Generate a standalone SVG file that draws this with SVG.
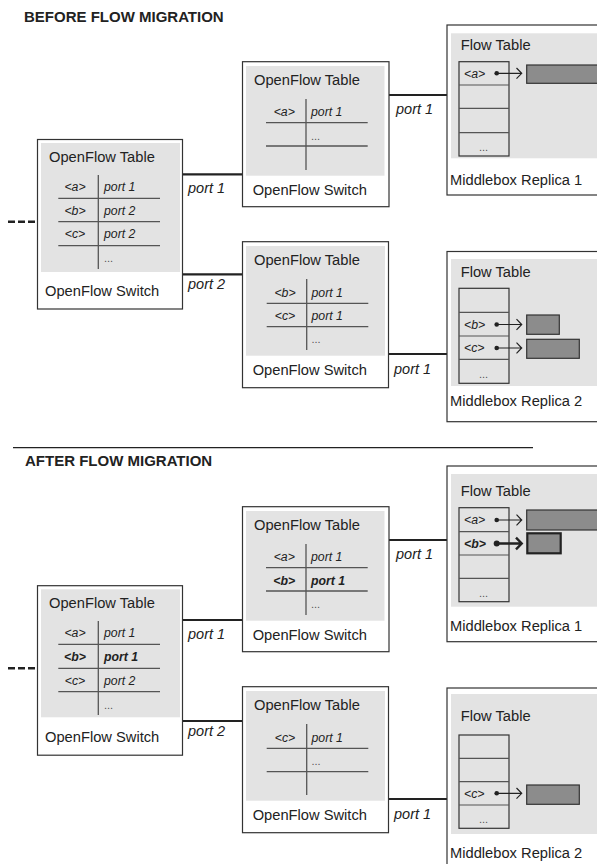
<svg xmlns="http://www.w3.org/2000/svg" width="597" height="864" viewBox="0 0 597 864">
<style>
text{font-family:"Liberation Sans",Arial,sans-serif;fill:#222}
.title{font-size:15px;font-weight:bold}
.lbl{font-size:14.7px}
.cell{font-size:12.3px;font-style:italic}
.cb{font-size:12.3px;font-style:italic;font-weight:bold}
.dots{font-size:11px;fill:#555}
.port{font-size:14.5px;font-style:italic}
.box{fill:#fff;stroke:#333;stroke-width:1.2}
.gray{fill:#e3e3e3}
.tl{stroke:#555;stroke-width:1.3;fill:none}
.ft{fill:none;stroke:#333;stroke-width:1.2}
.ftl{stroke:#555;stroke-width:1.2}
.buf{fill:#8c8c8c;stroke:#333;stroke-width:1.2}
.bufb{fill:#8c8c8c;stroke:#222;stroke-width:2.2}
.ptr{stroke:#222;stroke-width:1.2;fill:none}
.ptrb{stroke:#222;stroke-width:2.4;fill:none}
.link{stroke:#222;stroke-width:2.2;fill:none}
.dash{stroke:#222;stroke-width:2.5;stroke-dasharray:7 3;fill:none}
.sep{stroke:#222;stroke-width:1.2}
</style>

<text class="title" x="24" y="21.5">BEFORE FLOW MIGRATION</text>
<line class="sep" x1="13" y1="447.7" x2="533" y2="447.7"/>
<text class="title" x="25" y="466">AFTER FLOW MIGRATION</text>

<g id="connectors">
  <line class="dash" x1="8" y1="221.7" x2="37" y2="221.7"/>
  <line class="link" x1="183" y1="174.3" x2="242.5" y2="174.3"/>
  <line class="link" x1="183" y1="274.3" x2="242.5" y2="274.3"/>
  <line class="link" x1="389" y1="95" x2="447" y2="95"/>
  <line class="link" x1="389" y1="354" x2="447" y2="354"/>
  <text class="port" x="188" y="193">port 1</text>
  <text class="port" x="188" y="289">port 2</text>
  <text class="port" x="396" y="114">port 1</text>
  <text class="port" x="394" y="374">port 1</text>

  <line class="dash" x1="8" y1="668.3" x2="37" y2="668.3"/>
  <line class="link" x1="183" y1="620" x2="242.5" y2="620"/>
  <line class="link" x1="183" y1="721" x2="242.5" y2="721"/>
  <line class="link" x1="389" y1="540" x2="447" y2="540"/>
  <line class="link" x1="389" y1="799" x2="447" y2="799"/>
  <text class="port" x="188" y="639">port 1</text>
  <text class="port" x="188" y="736">port 2</text>
  <text class="port" x="396" y="559">port 1</text>
  <text class="port" x="394" y="819">port 1</text>
</g>

<!-- BEFORE -->
<g id="sw-left-before">
  <rect class="box" x="37.5" y="139.5" width="145" height="169.5"/>
  <rect class="gray" x="41" y="143" width="139" height="129"/>
  <text class="lbl" x="49" y="162">OpenFlow Table</text>
  <line class="tl" x1="98.3" y1="175" x2="98.3" y2="269"/>
  <line class="tl" x1="58.3" y1="198.3" x2="160" y2="198.3"/>
  <line class="tl" x1="58.3" y1="221.7" x2="160" y2="221.7"/>
  <line class="tl" x1="58.3" y1="245.7" x2="160" y2="245.7"/>
  <text class="cell" x="75" y="191" text-anchor="middle">&lt;a&gt;</text>
  <text class="cell" x="104" y="191">port 1</text>
  <text class="cell" x="75" y="214.5" text-anchor="middle">&lt;b&gt;</text>
  <text class="cell" x="104" y="214.5">port 2</text>
  <text class="cell" x="75" y="238" text-anchor="middle">&lt;c&gt;</text>
  <text class="cell" x="104" y="238">port 2</text>
  <text class="dots" x="104" y="262">...</text>
  <text class="lbl" x="45" y="296">OpenFlow Switch</text>
</g>

<g id="sw-top-before">
  <rect class="box" x="242.5" y="61.7" width="146.5" height="145"/>
  <rect class="gray" x="246" y="66" width="138.5" height="109.7"/>
  <text class="lbl" x="254" y="84.5">OpenFlow Table</text>
  <line class="tl" x1="306" y1="99" x2="306" y2="170"/>
  <line class="tl" x1="266" y1="122.7" x2="367.7" y2="122.7"/>
  <line class="tl" x1="266" y1="146" x2="367.7" y2="146"/>
  <text class="cell" x="284.3" y="116" text-anchor="middle">&lt;a&gt;</text>
  <text class="cell" x="311" y="116">port 1</text>
  <text class="dots" x="311" y="140">...</text>
  <text class="lbl" x="252.7" y="195">OpenFlow Switch</text>
</g>

<g id="sw-bot-before">
  <rect class="box" x="242.5" y="241.7" width="146" height="146"/>
  <rect class="gray" x="246" y="246" width="139" height="109.7"/>
  <text class="lbl" x="254" y="264.5">OpenFlow Table</text>
  <line class="tl" x1="306.7" y1="279" x2="306.7" y2="350"/>
  <line class="tl" x1="266.7" y1="303.3" x2="368.3" y2="303.3"/>
  <line class="tl" x1="266.7" y1="326.7" x2="368.3" y2="326.7"/>
  <text class="cell" x="285" y="296.5" text-anchor="middle">&lt;b&gt;</text>
  <text class="cell" x="311.5" y="296.5">port 1</text>
  <text class="cell" x="285" y="319.5" text-anchor="middle">&lt;c&gt;</text>
  <text class="cell" x="311.5" y="319.5">port 1</text>
  <text class="dots" x="311.5" y="343">...</text>
  <text class="lbl" x="252.7" y="375">OpenFlow Switch</text>
</g>

<g id="mb1-before">
  <rect class="box" x="447" y="25" width="160" height="170"/>
  <rect class="gray" x="451" y="33.3" width="156" height="125"/>
  <text class="lbl" x="460.7" y="50">Flow Table</text>
  <rect class="ft" x="459" y="61.7" width="50" height="94.3"/>
  <line class="ftl" x1="459" y1="85" x2="509" y2="85"/>
  <line class="ftl" x1="459" y1="108.3" x2="509" y2="108.3"/>
  <line class="ftl" x1="459" y1="132.7" x2="509" y2="132.7"/>
  <text class="cell" x="464" y="77.5">&lt;a&gt;</text>
  <circle cx="496.7" cy="73.3" r="2.3" fill="#222"/>
  <path class="ptr" d="M496.7,73.3 H521.7 M516.5,68 L521.7,73.3 L516.5,78.6"/>
  <rect class="buf" x="526.7" y="65" width="80" height="18.3"/>
  <text class="dots" x="479" y="151">...</text>
  <text class="lbl" x="450" y="185">Middlebox Replica 1</text>
</g>

<g id="mb2-before">
  <rect class="box" x="447" y="251.5" width="160" height="170.2"/>
  <rect class="gray" x="451" y="259" width="156" height="127"/>
  <text class="lbl" x="460.7" y="276.7">Flow Table</text>
  <rect class="ft" x="459" y="288.3" width="50" height="95"/>
  <line class="ftl" x1="459" y1="312.3" x2="509" y2="312.3"/>
  <line class="ftl" x1="459" y1="336" x2="509" y2="336"/>
  <line class="ftl" x1="459" y1="359.3" x2="509" y2="359.3"/>
  <text class="cell" x="464" y="328.5">&lt;b&gt;</text>
  <circle cx="496.7" cy="324.5" r="2.3" fill="#222"/>
  <path class="ptr" d="M496.7,324.5 H521.7 M516.5,319.2 L521.7,324.5 L516.5,329.8"/>
  <rect class="buf" x="526.7" y="315" width="32.6" height="19.3"/>
  <text class="cell" x="464" y="352">&lt;c&gt;</text>
  <circle cx="496.7" cy="348" r="2.3" fill="#222"/>
  <path class="ptr" d="M496.7,348 H521.7 M516.5,342.7 L521.7,348 L516.5,353.3"/>
  <rect class="buf" x="526.7" y="339.3" width="52.6" height="19"/>
  <text class="dots" x="479" y="378">...</text>
  <text class="lbl" x="450" y="405.5">Middlebox Replica 2</text>
</g>

<!-- AFTER -->
<g id="sw-left-after">
  <rect class="box" x="37.5" y="585.7" width="145" height="169.5"/>
  <rect class="gray" x="41" y="589.3" width="139" height="128"/>
  <text class="lbl" x="49" y="608">OpenFlow Table</text>
  <line class="tl" x1="98.3" y1="621" x2="98.3" y2="715"/>
  <line class="tl" x1="58.3" y1="644.3" x2="160" y2="644.3"/>
  <line class="tl" x1="58.3" y1="668.3" x2="160" y2="668.3"/>
  <line class="tl" x1="58.3" y1="691.7" x2="160" y2="691.7"/>
  <text class="cell" x="75" y="637" text-anchor="middle">&lt;a&gt;</text>
  <text class="cell" x="104" y="637">port 1</text>
  <text class="cb" x="75" y="661" text-anchor="middle">&lt;b&gt;</text>
  <text class="cb" x="104" y="661">port 1</text>
  <text class="cell" x="75" y="684.5" text-anchor="middle">&lt;c&gt;</text>
  <text class="cell" x="104" y="684.5">port 2</text>
  <text class="dots" x="104" y="708.5">...</text>
  <text class="lbl" x="45" y="741.5">OpenFlow Switch</text>
</g>

<g id="sw-top-after">
  <rect class="box" x="242.5" y="506.7" width="146.5" height="145"/>
  <rect class="gray" x="246" y="511" width="138.5" height="109.7"/>
  <text class="lbl" x="254" y="529.5">OpenFlow Table</text>
  <line class="tl" x1="306" y1="544" x2="306" y2="615"/>
  <line class="tl" x1="266" y1="567.7" x2="367.7" y2="567.7"/>
  <line class="tl" x1="266" y1="591" x2="367.7" y2="591"/>
  <text class="cell" x="284.3" y="561" text-anchor="middle">&lt;a&gt;</text>
  <text class="cell" x="311" y="561">port 1</text>
  <text class="cb" x="284.3" y="584.5" text-anchor="middle">&lt;b&gt;</text>
  <text class="cb" x="311" y="584.5">port 1</text>
  <text class="dots" x="311" y="608">...</text>
  <text class="lbl" x="252.7" y="640">OpenFlow Switch</text>
</g>

<g id="sw-bot-after">
  <rect class="box" x="242.5" y="686.7" width="146" height="146"/>
  <rect class="gray" x="246" y="691" width="139" height="109.7"/>
  <text class="lbl" x="254" y="709.5">OpenFlow Table</text>
  <line class="tl" x1="306.7" y1="724" x2="306.7" y2="795"/>
  <line class="tl" x1="266.7" y1="748.3" x2="368.3" y2="748.3"/>
  <line class="tl" x1="266.7" y1="771.7" x2="368.3" y2="771.7"/>
  <text class="cell" x="285" y="741.5" text-anchor="middle">&lt;c&gt;</text>
  <text class="cell" x="311.5" y="741.5">port 1</text>
  <text class="dots" x="311.5" y="765">...</text>
  <text class="lbl" x="252.7" y="820">OpenFlow Switch</text>
</g>

<g id="mb1-after">
  <rect class="box" x="447" y="466" width="160" height="175.7"/>
  <rect class="gray" x="451" y="474" width="156" height="132.7"/>
  <text class="lbl" x="460.7" y="496">Flow Table</text>
  <rect class="ft" x="459" y="507.7" width="50" height="94"/>
  <line class="ftl" x1="459" y1="531.7" x2="509" y2="531.7"/>
  <line class="ftl" x1="459" y1="555" x2="509" y2="555"/>
  <line class="ftl" x1="459" y1="578.3" x2="509" y2="578.3"/>
  <text class="cell" x="464" y="524">&lt;a&gt;</text>
  <circle cx="496.7" cy="520" r="2.3" fill="#222"/>
  <path class="ptr" d="M496.7,520 H521.7 M516.5,514.7 L521.7,520 L516.5,525.3"/>
  <rect class="buf" x="526.7" y="510" width="80" height="20"/>
  <text class="cb" x="464" y="547.5">&lt;b&gt;</text>
  <circle cx="496.7" cy="543.5" r="3" fill="#222"/>
  <path class="ptrb" d="M496.7,543.5 H521.5 M516,537.7 L521.7,543.5 L516,549.3"/>
  <rect class="bufb" x="527.3" y="533.3" width="33.4" height="20"/>
  <text class="dots" x="479" y="597">...</text>
  <text class="lbl" x="450" y="631">Middlebox Replica 1</text>
</g>

<g id="mb2-after">
  <rect class="box" x="447" y="688" width="160" height="190"/>
  <rect class="gray" x="451" y="694" width="156" height="140"/>
  <text class="lbl" x="460.7" y="720.7">Flow Table</text>
  <rect class="ft" x="459" y="735" width="50" height="93.3"/>
  <line class="ftl" x1="459" y1="758.3" x2="509" y2="758.3"/>
  <line class="ftl" x1="459" y1="781.7" x2="509" y2="781.7"/>
  <line class="ftl" x1="459" y1="805" x2="509" y2="805"/>
  <text class="cell" x="464" y="797.5">&lt;c&gt;</text>
  <circle cx="496.7" cy="793.3" r="2.3" fill="#222"/>
  <path class="ptr" d="M496.7,793.3 H521.7 M516.5,788 L521.7,793.3 L516.5,798.6"/>
  <rect class="buf" x="526.7" y="785" width="52.6" height="19.3"/>
  <text class="dots" x="479" y="823">...</text>
  <text class="lbl" x="450" y="858">Middlebox Replica 2</text>
</g>
</svg>
